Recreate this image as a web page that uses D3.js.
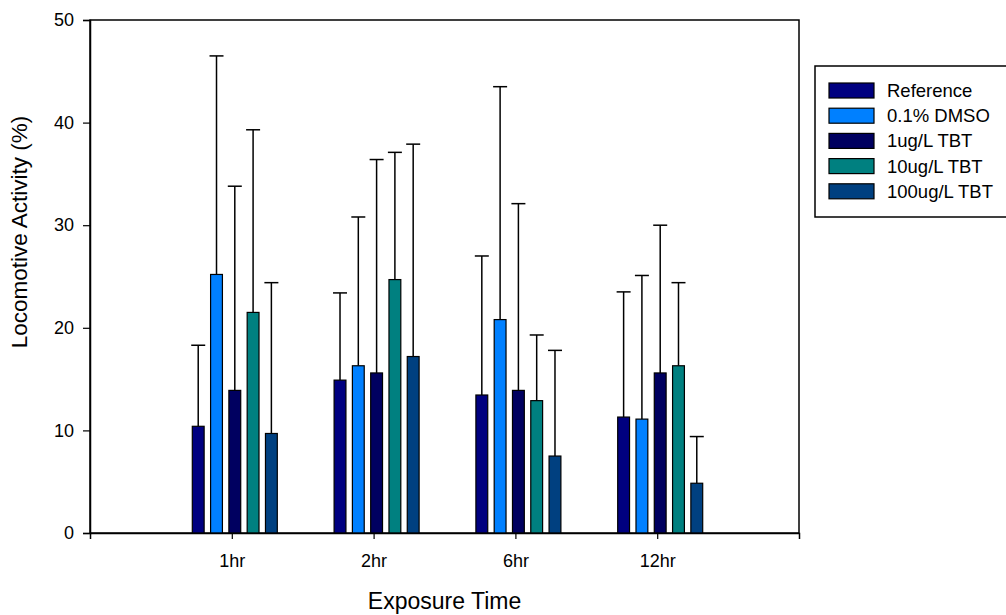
<!DOCTYPE html>
<html>
<head>
<meta charset="utf-8">
<script src="https://cdn.jsdelivr.net/npm/d3@7"></script>
<style>
  body { margin: 0; background: #fff; }
  text { font-family: Arial, "Liberation Sans", sans-serif; fill: #000; }
</style>
</head>
<body>
<div id="vis1"></div>
<script>
const categories = ["1hr", "2hr", "6hr", "12hr"];
const seriesNames = ["Reference", "0.1% DMSO", "1ug/L TBT", "10ug/L TBT", "100ug/L TBT"];
const seriesColors = ["#000080", "#0080ff", "#000060", "#008080", "#004080"];
// mean values per series, one entry per exposure time
const means = [
	[10.4, 14.9, 13.45, 11.3],
	[25.2, 16.3, 20.8, 11.1],
	[13.9, 15.6, 13.9, 15.6],
	[21.5, 24.7, 12.9, 16.3],
	[9.7, 17.2, 7.5, 4.85]
];
// top of the error bar
const upper = [
	[18.3, 23.4, 27.0, 23.5],
	[46.5, 30.8, 43.5, 25.1],
	[33.8, 36.4, 32.1, 30.0],
	[39.3, 37.1, 19.3, 24.4],
	[24.4, 37.9, 17.8, 9.4]
];
const yTicks = [0, 10, 20, 30, 40, 50];

const margin = {top: 20, right: 207, bottom: 82, left: 90};
const W = 1006, H = 615;
const width = W - margin.left - margin.right;
const height = H - margin.top - margin.bottom;

const svg = d3.select('#vis1')
	.append('svg')
		.attr("width", W)
		.attr("height", H);
const g = svg.append("g")
		.attr("transform", `translate(${margin.left},${margin.top})`);

const x = d3.scalePoint()
	.domain(categories)
	.range([0, width])
	.padding(1);

const barStep = 17, barW = 11;
const xs = d3.scaleBand()
	.domain(seriesNames)
	.range([-(barStep * 5 - (barStep - barW)) / 2, (barStep * 5 - (barStep - barW)) / 2 + (barStep - barW)])
	.paddingInner((barStep - barW) / barStep)
	.paddingOuter(0);

const y = d3.scaleLinear()
	.domain([0, 50])
	.range([height, 0]);

// frame
g.append("rect")
	.attr("width", width)
	.attr("height", height)
	.attr("fill", "none")
	.attr("stroke", "#000")
	.attr("stroke-width", 1.5);

const data = [];
seriesNames.forEach((s, i) => {
	categories.forEach((c, j) => {
		data.push({s, c, v: means[i][j], hi: upper[i][j], color: seriesColors[i]});
	});
});

// error bars
const eb = g.append("g").selectAll("g")
	.data(data)
	.join("g")
		.attr("transform", d => `translate(${x(d.c) + xs(d.s) + xs.bandwidth() / 2},0)`);
eb.append("line")
	.attr("y1", d => y(d.v))
	.attr("y2", d => y(d.hi))
	.attr("stroke", "#000")
	.attr("stroke-width", 1.5);
eb.append("line")
	.attr("x1", -7).attr("x2", 7)
	.attr("y1", d => y(d.hi))
	.attr("y2", d => y(d.hi))
	.attr("stroke", "#000")
	.attr("stroke-width", 1.5);

g.append("g").selectAll("rect")
	.data(data)
	.join("rect")
		.attr("x", d => x(d.c) + xs(d.s))
		.attr("y", d => y(d.v))
		.attr("width", xs.bandwidth())
		.attr("height", d => height - y(d.v))
		.attr("fill", d => d.color)
		.attr("stroke", "#000")
		.attr("stroke-width", 1.2);

// axes
const xAxis = g.append("g")
	.attr("transform", `translate(0,${height})`)
	.call(d3.axisBottom(x).tickSize(6).tickPadding(15));
xAxis.select(".domain").attr("stroke-width", 1.5);
xAxis.selectAll("line").attr("stroke-width", 1.2);
xAxis.selectAll("text").attr("font-size", 18).attr("font-family", "Arial, 'Liberation Sans', sans-serif");

const yAxis = g.append("g")
	.call(d3.axisLeft(y).tickValues(yTicks).tickSize(7).tickPadding(9).tickFormat(d3.format("d")));
yAxis.select(".domain").attr("stroke-width", 1.5);
yAxis.selectAll("line").attr("stroke-width", 1.2);
yAxis.selectAll("text").attr("font-size", 18).attr("font-family", "Arial, 'Liberation Sans', sans-serif");

svg.append("text")
	.attr("x", margin.left + width / 2)
	.attr("y", 609)
	.attr("text-anchor", "middle")
	.attr("font-size", 23)
	.text("Exposure Time");

svg.append("text")
	.attr("transform", `translate(27,232) rotate(-90)`)
	.attr("text-anchor", "middle")
	.attr("font-size", 22.5)
	.text("Locomotive Activity (%)");

// legend
const legend = svg.append("g").attr("transform", "translate(815,66)");
legend.append("rect")
	.attr("width", 200)
	.attr("height", 151)
	.attr("fill", "#fff")
	.attr("stroke", "#000")
	.attr("stroke-width", 1.5);
const li = legend.selectAll("g.item")
	.data(seriesNames)
	.join("g")
		.attr("class", "item")
		.attr("transform", (d, i) => `translate(14,${17 + i * 25.2})`);
li.append("rect")
	.attr("width", 45)
	.attr("height", 15)
	.attr("fill", (d, i) => seriesColors[i])
	.attr("stroke", "#000")
	.attr("stroke-width", 1.2);
li.append("text")
	.attr("x", 58)
	.attr("y", 14)
	.attr("font-size", 18.5)
	.text(d => d);
</script>
</body>
</html>
